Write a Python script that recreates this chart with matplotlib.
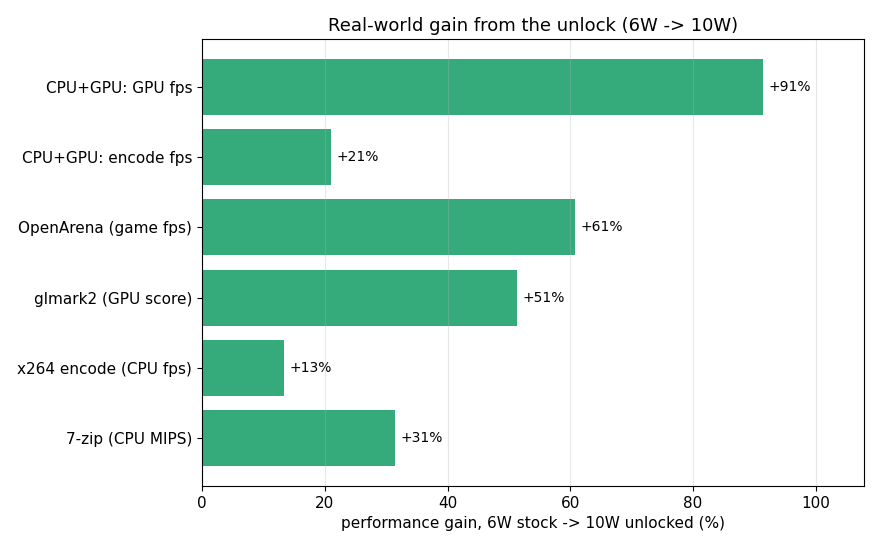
import matplotlib
matplotlib.use("Agg")
import matplotlib.pyplot as plt

labels = ["7-zip (CPU MIPS)", "x264 encode (CPU fps)", "glmark2 (GPU score)",
          "OpenArena (game fps)", "CPU+GPU: encode fps", "CPU+GPU: GPU fps"]
gains = [31.4, 13.35, 51.3, 60.7, 21.0, 91.4]
gain_text = ["+31%", "+13%", "+51%", "+61%", "+21%", "+91%"]

fig, ax = plt.subplots(figsize=(8.8, 5.5), dpi=100)
fig.subplots_adjust(left=202/880, right=864/880, top=1-39/550, bottom=1-486/550)

bars = ax.barh(labels, gains, color="#35ab7b")
for b, t in zip(bars, gain_text):
    ax.text(b.get_width() + 0.9, b.get_y() + b.get_height()/2, t,
            va="center", ha="left", fontsize=10)

ax.set_xlim(0, max(gains) * 1.18)
ax.grid(axis="x", alpha=0.3)
ax.tick_params(labelsize=11)
ax.set_xlabel("performance gain, 6W stock -> 10W unlocked (%)", fontsize=11)
ax.set_title("Real-world gain from the unlock (6W -> 10W)", fontsize=13)

fig.savefig("out.png")
